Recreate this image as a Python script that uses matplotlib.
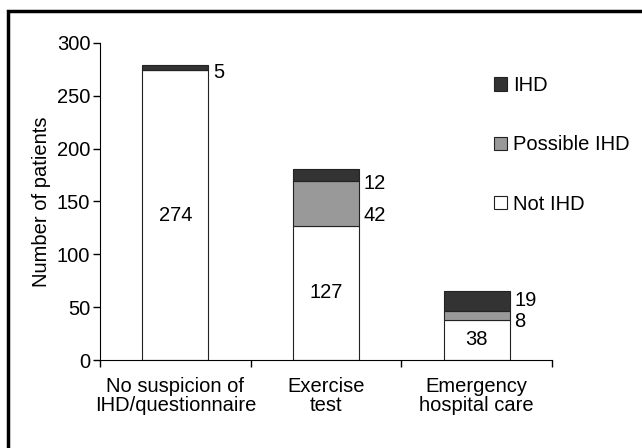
import numpy as np
import matplotlib
matplotlib.use("Agg")
import matplotlib.pyplot as plt
from matplotlib.patches import Rectangle

categories = ["No suspicion of\nIHD/questionnaire", "Exercise\ntest", "Emergency\nhospital care"]
not_ihd = [274, 127, 38]
possible_ihd = [0, 42, 8]
ihd = [5, 12, 19]

plt.rcParams["font.family"] = ["Liberation Sans", "DejaVu Sans"]
plt.rcParams["font.size"] = 14.5

fig = plt.figure(figsize=(6.42, 4.48), dpi=100)
ax = fig.add_axes([100/642, 1-360/448, 452/642, 317/448])

x = np.arange(len(categories)) + 0.5
w = 0.44
not_ihd = np.array(not_ihd)
possible_ihd = np.array(possible_ihd)
ihd = np.array(ihd)

ax.bar(x, not_ihd, w, color="white", edgecolor="#222222", lw=0.8, label="Not IHD")
ax.bar(x, possible_ihd, w, bottom=not_ihd, color="#999999", edgecolor="#222222", lw=0.8, label="Possible IHD")
ax.bar(x, ihd, w, bottom=not_ihd+possible_ihd, color="#333333", edgecolor="#222222", lw=0.8, label="IHD")

# labels: white segment centred, others to the right
for i in range(len(x)):
    ax.text(x[i], not_ihd[i]/2, str(not_ihd[i]), ha="center", va="center")
side_y = [[None, 272], [137, 167], [36, 56]]
for i in range(len(x)):
    vals = [possible_ihd[i], ihd[i]]
    for v, yy in zip(vals, side_y[i]):
        if v > 0 and yy is not None:
            ax.text(x[i] + w/2 + 0.03, yy, str(v), ha="left", va="center")

ax.set_xlim(0, 3)
ax.set_ylim(0, 300)
ax.set_yticks(range(0, 301, 50))
ax.set_xticks(x)
ax.set_xticklabels(categories, linespacing=1.05)
ax.set_xticks([0, 1, 2, 3], minor=True)
ax.tick_params(axis="x", which="major", length=0, pad=12)
ax.tick_params(axis="x", which="minor", length=5, width=1)
ax.tick_params(axis="y", length=5, width=1, pad=2)
ax.spines["top"].set_visible(False)
ax.spines["right"].set_visible(False)
ax.set_ylabel("Number of patients", labelpad=4)

h, l = ax.get_legend_handles_labels()
ax.legend(h[::-1], l[::-1], frameon=False, loc="upper left",
          bbox_to_anchor=(484/642, 1-66/448), bbox_transform=fig.transFigure,
          handlelength=0.65, handleheight=0.65, handletextpad=0.3,
          labelspacing=2.0, borderpad=0)

fig.patches.append(Rectangle((8/642, -0.5), 2, 0.5+1-11/448, transform=fig.transFigure,
                             fill=False, edgecolor="black", lw=2.5))

fig.savefig("out.png", dpi=100)
